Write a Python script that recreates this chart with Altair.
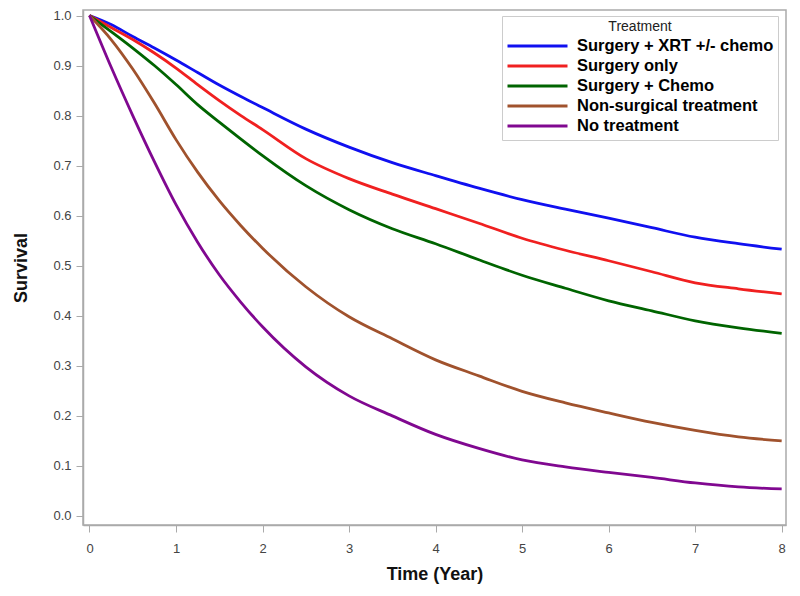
import altair as alt
import pandas as pd

times = [0, 0.25, 0.5, 0.75, 1, 1.25, 1.5, 1.75, 2, 2.5, 3, 3.5, 4, 4.5, 5, 5.5, 6, 6.5, 7, 7.5, 8]

treatments = ["Surgery + XRT +/- chemo", "Surgery only", "Surgery + Chemo",
              "Non-surgical treatment", "No treatment"]

surv_xrt = [1.0, 0.982, 0.958, 0.935, 0.911, 0.886, 0.861, 0.838, 0.816, 0.773, 0.737,
            0.706, 0.680, 0.655, 0.632, 0.613, 0.595, 0.576, 0.557, 0.544, 0.533]
surv_surg = [1.0, 0.976, 0.952, 0.925, 0.895, 0.862, 0.830, 0.800, 0.772, 0.714, 0.674,
             0.643, 0.614, 0.585, 0.555, 0.531, 0.510, 0.488, 0.466, 0.454, 0.444]
surv_chemo = [1.0, 0.968, 0.935, 0.900, 0.862, 0.822, 0.787, 0.753, 0.720, 0.660, 0.612,
              0.574, 0.544, 0.512, 0.481, 0.455, 0.430, 0.410, 0.390, 0.376, 0.365]
surv_nonsurg = [1.0, 0.952, 0.893, 0.825, 0.752, 0.687, 0.630, 0.580, 0.535, 0.458, 0.398,
                0.354, 0.312, 0.280, 0.249, 0.226, 0.206, 0.187, 0.171, 0.158, 0.150]
surv_none = [1.0, 0.897, 0.800, 0.708, 0.622, 0.547, 0.482, 0.427, 0.378, 0.298, 0.240,
             0.200, 0.163, 0.135, 0.112, 0.098, 0.087, 0.077, 0.066, 0.058, 0.054]

colors = ["#1010F0", "#F02020", "#006400", "#A0522D", "#800890"]
widths = [2.8, 2.8, 4.0, 2.8, 2.8]

series = [surv_xrt, surv_surg, surv_chemo, surv_nonsurg, surv_none]
rows = []
for name, vals in zip(treatments, series):
    for t, v in zip(times, vals):
        rows.append({"Time": t, "Survival": v, "Treatment": name})
df = pd.DataFrame(rows)

chart = alt.Chart(df).mark_line(interpolate="monotone", clip=True).encode(
    x=alt.X("Time:Q", title="Time (Year)",
            scale=alt.Scale(domain=[-0.075, 8.05], nice=False, zero=False),
            axis=alt.Axis(values=[0, 1, 2, 3, 4, 5, 6, 7, 8], format="d", grid=False,
                          labelFontSize=13, labelColor="#444", titleFontSize=18,
                          titleFontWeight="bold", titleColor="#111", titlePadding=10,
                          tickSize=7, labelPadding=10)),
    y=alt.Y("Survival:Q", title="Survival",
            scale=alt.Scale(domain=[-0.018, 1.011], nice=False, zero=False),
            axis=alt.Axis(values=[0, 0.1, 0.2, 0.3, 0.4, 0.5, 0.6, 0.7, 0.8, 0.9, 1.0],
                          format=".1f", grid=False, labelFontSize=13, labelColor="#444",
                          titleFontSize=18, titleFontWeight="bold", titleColor="#111",
                          titlePadding=22, tickSize=7, labelPadding=5)),
    color=alt.Color("Treatment:N", sort=treatments,
                    scale=alt.Scale(domain=treatments, range=colors),
                    legend=alt.Legend(orient="none", legendX=419, legendY=6,
                                      direction="vertical", fillColor="white",
                                      strokeColor="#ccc", padding=4,
                                      symbolType="stroke", symbolSize=3600,
                                      symbolStrokeWidth=3, clipHeight=20,
                                      labelFontSize=16.5, labelFontWeight="bold",
                                      labelColor="#000", labelOffset=8, labelLimit=0,
                                      titleFontSize=14, titleFontWeight="normal",
                                      titleColor="#222", titleAnchor="middle",
                                      rowPadding=0, titlePadding=2)),
    strokeWidth=alt.StrokeWidth("Treatment:N", sort=treatments,
                                scale=alt.Scale(domain=treatments, range=widths),
                                legend=None),
).properties(
    width=703, height=515,
    autosize=alt.AutoSizeParams(type="none"),
    padding={"left": 75, "top": 2, "right": 6, "bottom": 60},
).configure(
    font="Liberation Sans",
).configure_view(
    stroke="#aaa", strokeWidth=1.5,
).configure_axis(
    domainColor="#aaa", tickColor="#aaa", domainWidth=1.5,
)

chart.save("out.html", embed_options={"renderer": "svg", "actions": False})
